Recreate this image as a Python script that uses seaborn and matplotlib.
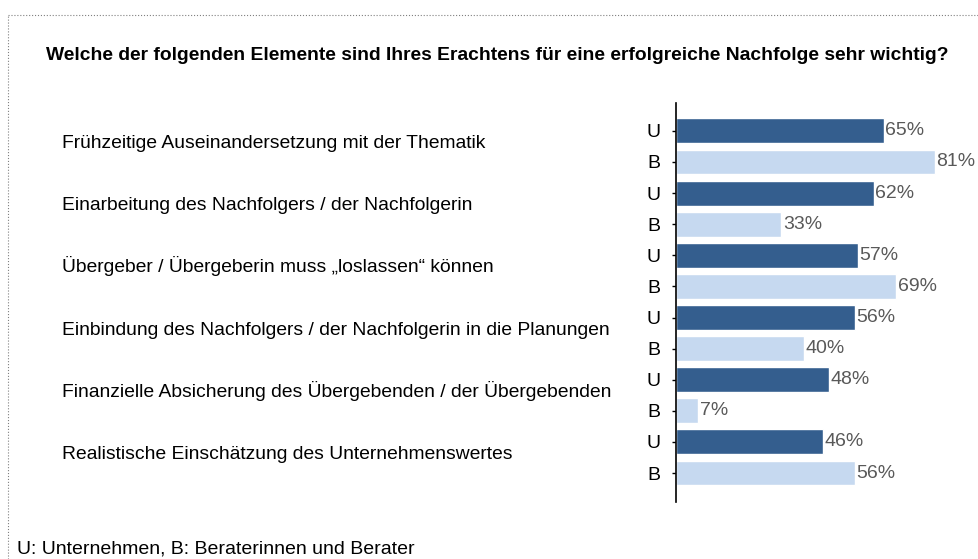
import pandas as pd
import matplotlib.pyplot as plt
import seaborn as sns
from matplotlib.lines import Line2D
import matplotlib.transforms as mtransforms

# Data
items = [
    'Frühzeitige Auseinandersetzung mit der Thematik',
    'Einarbeitung des Nachfolgers / der Nachfolgerin',
    'Übergeber / Übergeberin muss „loslassen“ können',
    'Einbindung des Nachfolgers / der Nachfolgerin in die Planungen',
    'Finanzielle Absicherung des Übergebenden / der Übergebenden',
    'Realistische Einschätzung des Unternehmenswertes',
]
unternehmen = [65, 62, 57, 56, 48, 46]
berater = [81, 33, 69, 40, 7, 56]
groups = ['U', 'B']

rows = []
for i, item in enumerate(items):
    rows.append({'key': f'{i}U', 'group': 'U', 'value': unternehmen[i]})
    rows.append({'key': f'{i}B', 'group': 'B', 'value': berater[i]})
df = pd.DataFrame(rows)

sns.set_theme(style='white')
plt.rcParams['font.family'] = ['Liberation Sans', 'DejaVu Sans']

fig = plt.figure(figsize=(9.79, 5.59), dpi=100)
ax = fig.add_axes([0.6905, 0.102, 0.31, 0.714])

sns.barplot(data=df, x='value', y='key', hue='group', order=df['key'].tolist(),
            palette={'U': '#345E8E', 'B': '#C6D9F0'}, dodge=False, width=0.8,
            saturation=1, orient='h', legend=False, ax=ax)

for cont in ax.containers:
    ax.bar_label(cont, fmt='%d%%', padding=1, color='#595959', fontsize=14)

ax.set_xlim(0, 95)
ax.set_ylim(11.93, -0.9)
ax.set_yticks(range(len(df)))
ax.set_yticklabels(df['group'].tolist(), fontsize=14, color='black')
ax.set_xticks([])
ax.set_xlabel('')
ax.set_ylabel('')
for side in ['top', 'right', 'bottom']:
    ax.spines[side].set_visible(False)
ax.spines['left'].set_color('black')
ax.spines['left'].set_linewidth(1.2)
ax.tick_params(axis='y', left=True, length=3, width=1, color='black', pad=8)

# category labels on the left
trans = mtransforms.blended_transform_factory(fig.transFigure, ax.transData)
for i, item in enumerate(items):
    fig.text(0.0635, 2 * i + 0.55, item, transform=trans, fontsize=13.9,
             va='baseline', ha='left', color='black')

fig.text(0.508, 0.8927, 'Welche der folgenden Elemente sind Ihres Erachtens für eine erfolgreiche Nachfolge sehr wichtig?',
         ha='center', va='baseline', fontsize=13.9, fontweight='bold', color='black')
fig.text(0.0175, 0.0107, 'U: Unternehmen, B: Beraterinnen und Berater',
         ha='left', va='baseline', fontsize=14, color='black')

# dotted frame
fig.add_artist(Line2D([0.008, 1.0], [0.973, 0.973], transform=fig.transFigure,
                      linestyle=':', color='#808080', linewidth=0.8))
fig.add_artist(Line2D([0.008, 0.008], [0.0, 0.973], transform=fig.transFigure,
                      linestyle=':', color='#808080', linewidth=0.8))

fig.savefig('out.png', dpi=100)
